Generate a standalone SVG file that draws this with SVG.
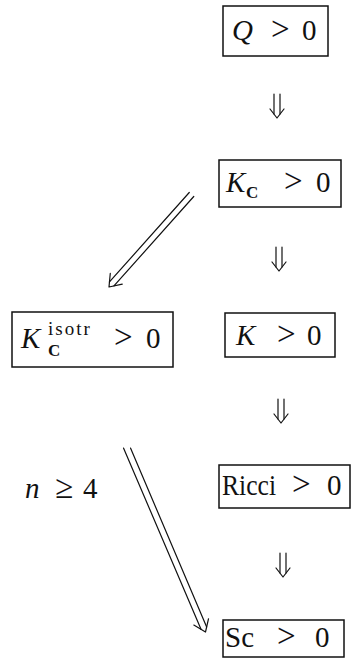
<svg xmlns="http://www.w3.org/2000/svg" xmlns:xlink="http://www.w3.org/1999/xlink" width="352" height="662" viewBox="0 0 352 662">
<style>
.box{fill:none;stroke:#111;stroke-width:1.5}
.t{font-family:"Liberation Serif","Times New Roman",serif;font-size:29px;fill:#111}
.i{font-style:italic}
.gt{font-size:33px}
.sub{font-family:"Liberation Serif",serif;font-weight:bold;font-size:17px;fill:#111}
.sup{font-family:"Liberation Serif",serif;font-size:19px;fill:#111;letter-spacing:2px}
.ln{fill:none;stroke:#111;stroke-width:1.2;stroke-linecap:round;stroke-linejoin:round}
</style>
<defs>
<g id="dn">
<line class="ln" x1="-3" y1="0" x2="-3" y2="20"/>
<line class="ln" x1="3" y1="0" x2="3" y2="20"/>
<polyline class="ln" points="-7,15 0,24 7,15"/>
</g>
</defs>
<rect width="352" height="662" fill="#fff"/>
<g id="connectors">
<use xlink:href="#dn" x="277" y="94"/>
<use xlink:href="#dn" x="279" y="247"/>
<use xlink:href="#dn" x="281" y="399"/>
<use xlink:href="#dn" x="283" y="553"/>
<g id="diag1">
<line class="ln" x1="193.75" y1="196.5" x2="113.96" y2="285.9"/>
<line class="ln" x1="189.25" y1="192.5" x2="109.46" y2="281.94"/>
<polyline class="ln" points="110.27,273.46 109,287 122.27,284.04"/>
</g>
<g id="diag2">
<line class="ln" x1="130.5" y1="448" x2="206.65" y2="627.05"/>
<line class="ln" x1="123.5" y1="448" x2="201.13" y2="629.41"/>
<polyline class="ln" points="193.82,625.02 205.5,632 208.54,618.74"/>
</g>
<text id="lbl-n" class="t" y="498"><tspan class="i" x="25">n</tspan><tspan class="gt" x="55">≥</tspan><tspan x="83">4</tspan></text>
</g>
<g id="nodeQ">
<rect class="box" x="223" y="6" width="105" height="50"/>
<text class="t" y="40"><tspan class="i" x="232">Q</tspan><tspan class="gt" x="271">&gt;</tspan><tspan x="302">0</tspan></text>
</g>
<g id="nodeKC">
<rect class="box" x="219" y="160" width="122" height="47"/>
<text class="t" y="192"><tspan class="i" x="226">K</tspan><tspan class="gt" x="284">&gt;</tspan><tspan x="316">0</tspan></text>
<text class="sub" x="246" y="198">C</text>
</g>
<g id="nodeKiso">
<rect class="box" x="12" y="312" width="161" height="55"/>
<text class="t" y="348"><tspan class="i" x="21">K</tspan><tspan class="gt" x="114">&gt;</tspan><tspan x="146">0</tspan></text>
<text class="sup" x="48" y="335">isotr</text>
<text class="sub" x="48" y="356">C</text>
</g>
<g id="nodeK">
<rect class="box" x="225" y="313" width="110" height="44"/>
<text class="t" y="345"><tspan class="i" x="236">K</tspan><tspan class="gt" x="277">&gt;</tspan><tspan x="307">0</tspan></text>
</g>
<g id="nodeRicci">
<rect class="box" x="219" y="465" width="131" height="43"/>
<text class="t" x="222" y="495" textLength="54" lengthAdjust="spacingAndGlyphs">Ricci</text>
<text class="t" y="495"><tspan class="gt" x="292">&gt;</tspan><tspan x="327">0</tspan></text>
</g>
<g id="nodeSc">
<rect class="box" x="223" y="620" width="121" height="37"/>
<text class="t" y="647"><tspan x="225">Sc</tspan><tspan class="gt" x="277">&gt;</tspan><tspan x="315">0</tspan></text>
</g>
</svg>
